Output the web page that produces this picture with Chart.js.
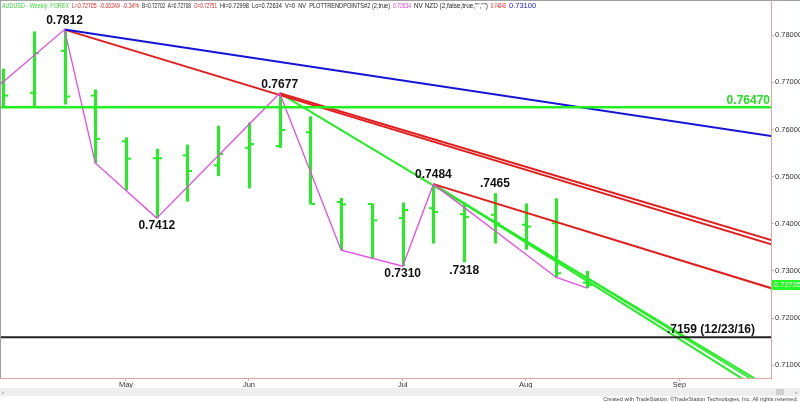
<!DOCTYPE html>
<html><head><meta charset="utf-8">
<script src="https://cdn.jsdelivr.net/npm/chart.js@4.4.1/dist/chart.umd.min.js"></script>
<style>html,body{margin:0;padding:0;background:#fff;overflow:hidden}#wrap{position:relative;width:800px;height:402px}</style>
</head><body><div id="wrap"><canvas id="c" width="800" height="402"></canvas></div>
<script>
// ---- data ----
const weeks = ['04/06','04/13','04/20','04/27','05/04','05/11','05/18','05/25','06/01','06/08','06/15','06/22','06/29','07/06','07/13','07/20','07/27','08/03','08/10','08/17'];
const opens  = [0.7700,0.7678,0.7767,0.7672,0.7575,0.7539,0.7545,0.7524,0.7561,0.7565,0.7594,0.7446,0.7442,0.7412,0.7433,0.7420,0.7419,0.7398,0.7401,0.72751];
const highs  = [0.7729,0.7808,0.7812,0.7685,0.7583,0.7559,0.7568,0.7608,0.7615,0.7677,0.7628,0.7455,0.7443,0.7445,0.7484,0.7445,0.7465,0.7443,0.7454,0.72998];
const lows   = [0.7649,0.7650,0.7653,0.7529,0.7471,0.7412,0.7447,0.7501,0.7475,0.7561,0.7441,0.7344,0.7326,0.7310,0.7358,0.7318,0.7358,0.7345,0.7286,0.72634];
const closes = [0.7672,0.7762,0.7670,0.7580,0.7538,0.7539,0.7512,0.7548,0.7569,0.7599,0.7442,0.7441,0.7407,0.7429,0.7425,0.7414,0.7401,0.7394,0.7295,0.72705];
const monthTicks  = [4, 8, 13, 17, 22];
const monthLabels = ['May','Jun','Jul','Aug','Sep'];
const priceTicks  = [0.71,0.72,0.73,0.74,0.75,0.76,0.77,0.78];
const swingIdx = [-1, 2, 3, 5, 9, 11, 13, 14, 18, 19];
const swingVal = [0.7645, 0.7812, 0.7529, 0.7412, 0.7677, 0.7344, 0.7310, 0.7484, 0.7286, 0.72634];
const blueLine  = [[2, 0.7812], [25, 0.7586]];
const redLineA  = [[2, 0.7812], [25, 0.7356]];
const redLineB  = [[9, 0.7677], [25, 0.7365]];
const redLineC  = [[14, 0.7484], [25, 0.7263]];
const greenLineA = [[9, 0.7677], [25, 0.7050]];
const greenLineB = [[14, 0.7484], [25, 0.7044]];
const greenLineC = [[14, 0.7484], [25, 0.7032]];
const levelGreen = 0.7647;
const levelBlack = 0.7159;
const lastPrice = 0.72705;
const labelTexts = ['0.7812','0.7412','0.7677','0.7310','0.7484','.7318','.7465'];
const labelIdx   = [2, 5, 9, 13, 14, 15, 16];
const labelVal   = [0.7812, 0.7412, 0.7677, 0.7310, 0.7484, 0.7318, 0.7465];
const labelSide  = ['above','below','above','below','above','below','above'];
const levelGreenText = '0.76470';
const levelBlackText = '.7159 (12/23/16)';
const headerParts = [
  ['AUDUSD - Weekly  FOREX', '#3fcf3f'],
  ['L=0.72705  -0.00249  -0.34%', '#e02020'],
  ['B=0.72702  A=0.72708', '#222'],
  ['O=0.72751', '#e02020'],
  ['Hi=0.72998  Lo=0.72634  V=0  NV  PLOTTRENDPOINTS#2 (2,true)', '#222'],
  ['0.72634', '#e040e0'],
  ['NV NZD (2,false,true,"","")', '#222'],
  ['0.74840', '#e02020'],
  ['0.73100', '#2020e0']
];
const copyright = 'Created with TradeStation. \u00A9TradeStation Technologies, Inc. All rights reserved.';

// ---- styles ----
const FONT = '"Liberation Sans", Arial, sans-serif';
const LIME = '#22ee22';
const RED = '#e31b1b';
const BLUE = '#1414d8';
const PINK = '#e64be6';
const AXIS = '#e2a3a3';
const headerX = [2, 72, 142, 194, 220, 393, 414, 491, 509];

const toPts = arr => arr.map(p => ({x: p[0], y: p[1]}));
const lineDs = (pts, color, w) => ({data: toPts(pts), borderColor: color, borderWidth: w, pointRadius: 0, fill: false, tension: 0});

const ohlcPlugin = {
  id: 'ohlc',
  beforeDatasetsDraw(chart) {
    const {ctx, chartArea: a, scales: {x, y}} = chart;
    ctx.save();
    ctx.beginPath(); ctx.rect(a.left, a.top, a.right - a.left, a.bottom - a.top); ctx.clip();
    ctx.fillStyle = LIME;
    for (let i = 0; i < weeks.length; i++) {
      const px = Math.round(x.getPixelForValue(i));
      const yh = y.getPixelForValue(highs[i]), yl = y.getPixelForValue(lows[i]);
      const yo = y.getPixelForValue(opens[i]), yc = y.getPixelForValue(closes[i]);
      ctx.fillRect(px - 1, yh, 3, yl - yh);
      ctx.fillRect(px - 4, yo - 1, 4, 2);
      ctx.fillRect(px + 1, yc - 1, 4, 2);
    }
    ctx.restore();
  },
  afterDatasetsDraw(chart) {
    const {ctx, chartArea: a, scales: {x, y}} = chart;
    ctx.save();
    ctx.font = 'bold 12px ' + FONT;
    ctx.textAlign = 'center'; ctx.textBaseline = 'middle';
    ctx.fillStyle = '#111';
    for (let i = 0; i < labelTexts.length; i++) {
      const px = x.getPixelForValue(labelIdx[i]);
      const py = y.getPixelForValue(labelVal[i]) + (labelSide[i] === 'above' ? -9 : 8);
      ctx.fillText(labelTexts[i], px, py);
    }
    ctx.textAlign = 'right'; ctx.textBaseline = 'alphabetic';
    ctx.fillStyle = '#22dd22';
    ctx.fillText(levelGreenText, a.right - 1, y.getPixelForValue(levelGreen) - 3);
    ctx.fillStyle = '#111';
    ctx.fillText(levelBlackText, a.right - 16, y.getPixelForValue(levelBlack) - 4);
    ctx.restore();
  },
  afterDraw(chart) {
    const {ctx, chartArea: a, scales: {y}} = chart;
    ctx.save();
    // frame
    ctx.fillStyle = '#a0a0a0';
    ctx.fillRect(0, 0, 800, 1);
    ctx.fillRect(0, 0, 1, a.bottom);
    ctx.fillStyle = AXIS;
    ctx.fillRect(a.right, 0, 1, a.top);
    // header
    ctx.font = '7.5px ' + FONT;
    ctx.textBaseline = 'middle'; ctx.textAlign = 'left';
    headerParts.forEach((p, i) => {
      const next = i + 1 < headerX.length ? headerX[i + 1] : 540;
      ctx.fillStyle = p[1];
      ctx.fillText(p[0], headerX[i], 6, next - headerX[i] - 3);
    });
    // last price box
    const py = Math.round(y.getPixelForValue(lastPrice));
    ctx.fillStyle = '#22ff22';
    ctx.fillRect(a.right + 1, py - 5, 800 - a.right - 1, 10);
    ctx.fillStyle = '#ffffff';
    ctx.font = '7.5px ' + FONT;
    ctx.fillText(lastPrice.toFixed(5), a.right + 3, py);
    // scrollbar
    ctx.fillStyle = '#eeeeee';
    ctx.fillRect(0, 388, 800, 8);
    ctx.fillStyle = '#cfcfcf';
    ctx.fillRect(776, 389, 8, 6);
    ctx.fillStyle = '#666';
    ctx.font = '6px ' + FONT;
    ctx.fillText('\u2039', 2, 392);
    ctx.fillText('\u203A', 795, 392);
    // copyright
    ctx.textAlign = 'right';
    ctx.fillStyle = '#444';
    ctx.font = '5.5px ' + FONT;
    ctx.fillText(copyright, 798, 399);
    ctx.restore();
  }
};

new Chart(document.getElementById('c'), {
  type: 'line',
  data: {
    datasets: [
      lineDs([[-1, levelGreen], [26, levelGreen]], LIME, 2.5),
      lineDs([[-1, levelBlack], [26, levelBlack]], '#222', 2),
      {data: swingIdx.map((v, i) => ({x: v, y: swingVal[i]})), borderColor: PINK, borderWidth: 1.3, pointRadius: 0, fill: false, tension: 0},
      lineDs(blueLine, BLUE, 2),
      lineDs(redLineA, RED, 2),
      lineDs(redLineB, RED, 2),
      lineDs(redLineC, RED, 2),
      lineDs(greenLineA, LIME, 2),
      lineDs(greenLineB, LIME, 1.5),
      lineDs(greenLineC, LIME, 2)
    ]
  },
  options: {
    responsive: false,
    animation: false,
    events: [],
    layout: {padding: {top: 2, left: 0, right: 0, bottom: 0}},
    plugins: {legend: {display: false}, tooltip: {enabled: false}},
    scales: {
      x: {
        type: 'linear', position: 'bottom', min: -0.098, max: 24.98,
        afterBuildTicks: s => { s.ticks = monthTicks.map(v => ({value: v})); },
        afterFit: s => { s.height = 24; },
        ticks: {callback: v => monthLabels[monthTicks.indexOf(v)], font: {size: 7.5, family: FONT}, color: '#333', padding: -1, maxRotation: 0, autoSkip: false},
        grid: {drawOnChartArea: false, drawTicks: true, tickLength: 3, color: AXIS},
        border: {color: AXIS, width: 1}
      },
      y: {
        type: 'linear', position: 'right', min: 0.70727, max: 0.78631,
        afterBuildTicks: s => { s.ticks = priceTicks.map(v => ({value: v})); },
        afterFit: s => { s.width = 29; },
        ticks: {callback: v => v.toFixed(5), font: {size: 7.5, family: FONT}, color: '#333', padding: 1},
        grid: {drawOnChartArea: false, drawTicks: true, tickLength: 3, color: AXIS},
        border: {color: AXIS, width: 1}
      }
    }
  },
  plugins: [ohlcPlugin]
});
</script></body></html>
